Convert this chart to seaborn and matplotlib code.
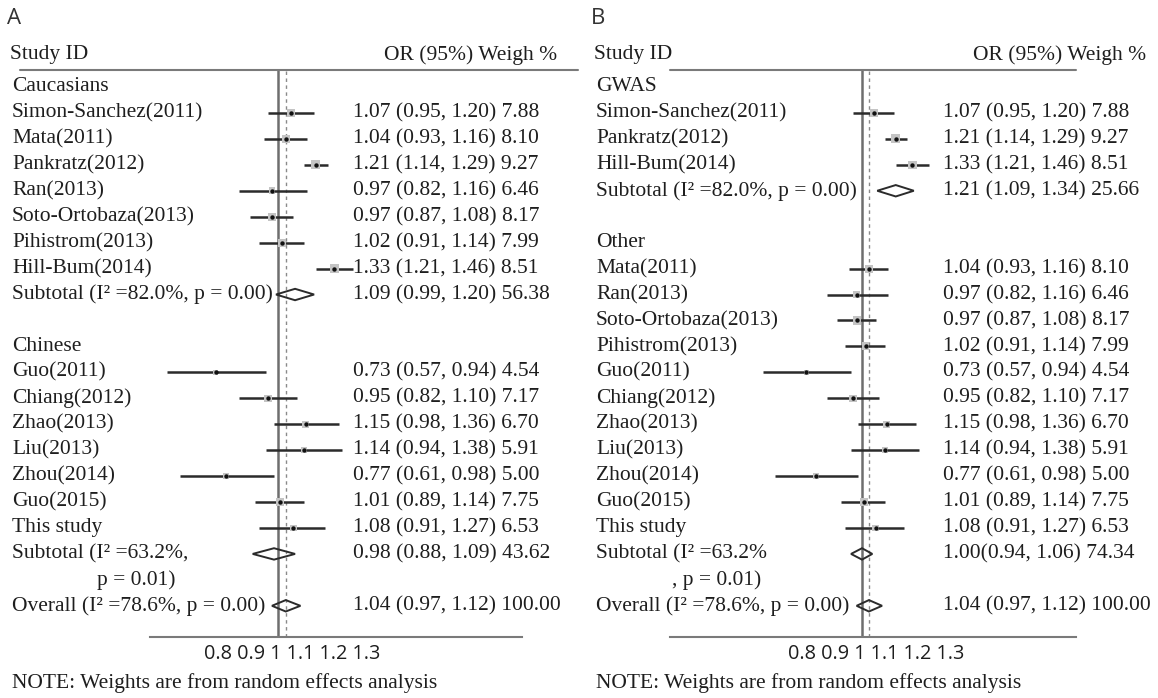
import numpy as np
import pandas as pd
import matplotlib.pyplot as plt
import matplotlib.transforms as mtransforms
from matplotlib.lines import Line2D
from matplotlib.patches import Polygon
import seaborn as sns

# ==========================================
# Data
# ==========================================

cauc_names = ["Simon-Sanchez(2011)", "Mata(2011)", "Pankratz(2012)", "Ran(2013)",
              "Soto-Ortobaza(2013)", "Pihistrom(2013)", "Hill-Bum(2014)"]
cauc_or = [1.07, 1.04, 1.21, 0.97, 0.97, 1.02, 1.33]
cauc_lo = [0.95, 0.93, 1.14, 0.82, 0.87, 0.91, 1.21]
cauc_hi = [1.20, 1.16, 1.29, 1.16, 1.08, 1.14, 1.46]
cauc_w = [7.88, 8.10, 9.27, 6.46, 8.17, 7.99, 8.51]

chin_names = ["Guo(2011)", "Chiang(2012)", "Zhao(2013)", "Liu(2013)",
              "Zhou(2014)", "Guo(2015)", "This study"]
chin_or = [0.73, 0.95, 1.15, 1.14, 0.77, 1.01, 1.08]
chin_lo = [0.57, 0.82, 0.98, 0.94, 0.61, 0.89, 0.91]
chin_hi = [0.94, 1.10, 1.36, 1.38, 0.98, 1.14, 1.27]
chin_w = [4.54, 7.17, 6.70, 5.91, 5.00, 7.75, 6.53]

# panel B regroups the same studies
gwas_names = ["Simon-Sanchez(2011)", "Pankratz(2012)", "Hill-Bum(2014)"]
gwas_or = [1.07, 1.21, 1.33]
gwas_lo = [0.95, 1.14, 1.21]
gwas_hi = [1.20, 1.29, 1.46]
gwas_w = [7.88, 9.27, 8.51]

other_names = ["Mata(2011)", "Ran(2013)", "Soto-Ortobaza(2013)", "Pihistrom(2013)",
               "Guo(2011)", "Chiang(2012)", "Zhao(2013)", "Liu(2013)",
               "Zhou(2014)", "Guo(2015)", "This study"]
other_or = [1.04, 0.97, 0.97, 1.02, 0.73, 0.95, 1.15, 1.14, 0.77, 1.01, 1.08]
other_lo = [0.93, 0.82, 0.87, 0.91, 0.57, 0.82, 0.98, 0.94, 0.61, 0.89, 0.91]
other_hi = [1.16, 1.16, 1.08, 1.14, 0.94, 1.10, 1.36, 1.38, 0.98, 1.14, 1.27]
other_w = [8.10, 6.46, 8.17, 7.99, 4.54, 7.17, 6.70, 5.91, 5.00, 7.75, 6.53]

# pooled estimates: OR, lower, upper, weight
sub_cauc = [1.09, 0.99, 1.20, 56.38]
sub_chin = [0.98, 0.88, 1.09, 43.62]
sub_gwas = [1.21, 1.09, 1.34, 25.66]
sub_other = [1.00, 0.94, 1.06, 74.34]
overall = [1.04, 0.97, 1.12, 100.00]

tick_vals = [0.8, 0.9, 1.0, 1.1, 1.2, 1.3]
tick_labels = ["0.8", "0.9", "1", "1.1", "1.2", "1.3"]

# ==========================================
# Style / layout
# ==========================================

sns.set_style("white")
plt.rcParams['font.family'] = ['Liberation Serif', 'DejaVu Serif']

W, H = 1158, 698
FS = 15.5
TXT = '#1e1e1e'
LINE = '#2b2b2b'
GREY = '#6e6e6e'
SANS = ['Open Sans', 'DejaVu Sans']

ROW0, PITCH = 87, 25.94
AX_TOP, AX_BOT = 70, 637

fig = plt.figure(figsize=(W / 100, H / 100), dpi=100)


def fx(px):
    return px / W


def fy(py):
    return 1 - py / H


def fmt(v, gap=" "):
    return f"{v[0]:.2f}{gap}({v[1]:.2f}, {v[2]:.2f}) {v[3]:.2f}"


def draw_panel(letter, x0, ax_left, ax_right, one_px, ppl, line_end, head_right,
               val_left, groups, cont_text, cont_indent):
    ax = fig.add_axes([fx(ax_left), fy(AX_BOT), fx(ax_right - ax_left),
                       (AX_BOT - AX_TOP) / H])
    ax.set_xscale('log')
    trans = mtransforms.blended_transform_factory(fig.transFigure, ax.transData)

    def label(row, s, x=x0 + 12):
        ax.text(fx(x), row, s, transform=trans, ha='left', va='center',
                fontsize=FS, color=TXT, clip_on=False)

    def value(row, s):
        ax.text(fx(val_left), row, s, transform=trans, ha='left', va='center',
                fontsize=FS, color=TXT, clip_on=False)

    def diamond(row, v):
        h = 0.22
        ax.add_patch(Polygon([(v[1], row), (v[0], row - h), (v[2], row), (v[0], row + h)],
                             closed=True, fill=False, edgecolor=LINE, lw=1.4, zorder=4))

    # null line and overall dashed line
    ax.axvline(1.0, color=GREY, lw=1.8, zorder=1)
    ax.axvline(overall[0], color='#8a8a8a', lw=1.0, ls=(0, (2.5, 2.5)), zorder=1)

    studies = []
    row = 1
    for title, names, ors, los, his, ws, sub, sub_text, gap in groups:
        label(row, title)
        for n, o, l, h, w in zip(names, ors, los, his, ws):
            row += 1
            label(row, n)
            value(row, fmt([o, l, h, w]))
            studies.append({'row': row, 'or': o, 'lo': l, 'hi': h, 'w': w})
        row += 1
        label(row, sub_text)
        value(row, fmt(sub, gap))
        diamond(row, sub)
        last_sub = row
        row += 2

    label(last_sub + 1, cont_text, x=x0 + 12 + cont_indent)
    label(row, "Overall (I\u00b2 =78.6%, p = 0.00)")
    value(row, fmt(overall))
    diamond(row, overall)

    df = pd.DataFrame(studies)
    ax.hlines(df['row'], df['lo'], df['hi'], color=LINE, lw=1.8, zorder=2)
    sns.scatterplot(data=df, x='or', y='row', size='w', sizes=(14, 40), marker='s',
                    color='#c4c4c4', linewidth=0, legend=False, ax=ax, zorder=3)
    sns.scatterplot(data=df, x='or', y='row', marker='o', s=10, color='#111111',
                    linewidth=0, legend=False, ax=ax, zorder=5)

    ax.set_xlim(np.exp((ax_left - one_px) / ppl), np.exp((ax_right - one_px) / ppl))
    ax.set_ylim(1 + (AX_BOT - ROW0) / PITCH, 1 + (AX_TOP - ROW0) / PITCH)
    ax.set_xticks(tick_vals)
    ax.minorticks_off()
    ax.set_yticks([])
    ax.tick_params(axis='x', direction='in', length=4, width=1, color=GREY,
                   labelbottom=False)
    ax.set_xlabel('')
    ax.set_ylabel('')
    sns.despine(ax=ax, left=True)
    ax.spines['bottom'].set_color('#7a7a7a')
    ax.spines['bottom'].set_linewidth(1.5)
    ax.patch.set_alpha(0)

    # tick label strip, spaced as in the original figure
    fig.text(fx(one_px + 14), fy(654), " ".join(tick_labels), ha='center', va='center',
             fontsize=14.3, family=SANS, color=TXT)

    # headers
    fig.text(fx(x0 + 7), fy(19), letter, ha='left', va='center', fontsize=16,
             family=SANS, color='#333333')
    fig.text(fx(x0 + 10), fy(55), "Study ID", ha='left', va='center', fontsize=FS, color=TXT)
    fig.text(fx(head_right), fy(55), "OR (95%) Weigh %", ha='right', va='center',
             fontsize=FS, color=TXT)
    fig.add_artist(Line2D([fx(line_end[0]), fx(line_end[1])], [fy(AX_TOP), fy(AX_TOP)],
                          color='#7a7a7a', lw=1.5))
    fig.text(fx(x0 + 12), fy(683), "NOTE: Weights are from random effects analysis",
             ha='left', va='center', fontsize=FS, color=TXT)


groups_a = [
    ("Caucasians", cauc_names, cauc_or, cauc_lo, cauc_hi, cauc_w, sub_cauc,
     "Subtotal (I\u00b2 =82.0%, p = 0.00)", " "),
    ("Chinese", chin_names, chin_or, chin_lo, chin_hi, chin_w, sub_chin,
     "Subtotal (I\u00b2 =63.2%,", " "),
]
groups_b = [
    ("GWAS", gwas_names, gwas_or, gwas_lo, gwas_hi, gwas_w, sub_gwas,
     "Subtotal (I\u00b2 =82.0%, p = 0.00)", " "),
    ("Other", other_names, other_or, other_lo, other_hi, other_w, sub_other,
     "Subtotal (I\u00b2 =63.2%", ""),
]

draw_panel("A", 0, 150, 522, 278, 198, (20, 578), 557, 353, groups_a, "p = 0.01)", 85)
draw_panel("B", 584, 670, 1076, 862, 177, (670, 1076), 1146, 943, groups_b, ", p = 0.01)", 76)

fig.savefig("out.png", dpi=100, facecolor='white')
